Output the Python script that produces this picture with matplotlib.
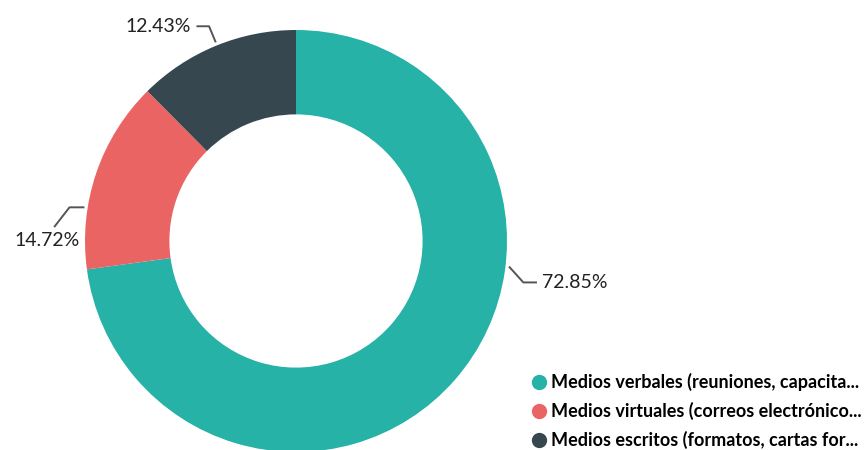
import matplotlib.pyplot as plt
from matplotlib.lines import Line2D
import numpy as np

plt.rcParams["font.family"] = ["Lato", "DejaVu Sans"]

# Data
labels = [
    "Medios verbales (reuniones, capacita...",
    "Medios virtuales (correos electrónico...",
    "Medios escritos (formatos, cartas for...",
]
shares = [72.85, 14.72, 12.43]
colors = ["#26b2a7", "#eb6464", "#37474f"]

# Leader lines: angle where each leaves the ring (deg, CCW from 3 o'clock),
# then the two elbow offsets in axes units and the text side
leaders = [
    (-7, (0.065, -0.072), (0.06, 0.0), "left"),
    (171, (-0.066, 0.0), (-0.07, -0.09), "below"),
    (112, (-0.03, 0.072), (-0.055, 0.0), "right"),
]

fig = plt.figure(figsize=(8.68, 4.5), dpi=100)

# Ring centred at (296, 241) px with an outer radius of 211 px
cx, cy, R = 296, 241, 211
W, H = 868, 450
ax = fig.add_axes([(cx - R) / W, (H - cy - R) / H, 2 * R / W, 2 * R / H])
ax.pie(
    shares,
    colors=colors,
    startangle=90,
    counterclock=False,
    radius=1,
    wedgeprops=dict(width=0.4, edgecolor="none"),
)
ax.set_xlim(-1, 1)
ax.set_ylim(-1, 1)
ax.set_aspect("equal")
ax.axis("off")

# Percentage labels with elbow leader lines
for val, (ang, d1, d2, pos) in zip(shares, leaders):
    a = np.deg2rad(ang)
    x0, y0 = 1.02 * np.cos(a), 1.02 * np.sin(a)
    x1, y1 = x0 + d1[0], y0 + d1[1]
    x2, y2 = x1 + d2[0], y1 + d2[1]
    ax.plot([x0, x1, x2], [y0, y1, y2], color="#555555", lw=1.4, clip_on=False)
    txt = f"{val:.2f}%"
    if pos == "left":
        ax.text(x2 + 0.03, y2, txt, ha="left", va="center",
                fontsize=14, color="#222222", clip_on=False)
    elif pos == "right":
        ax.text(x2 - 0.03, y2, txt, ha="right", va="center",
                fontsize=14, color="#222222", clip_on=False)
    else:
        ax.text(x2 + 0.12, y2 - 0.065, txt, ha="right", va="center",
                fontsize=14, color="#222222", clip_on=False)

# Legend with round markers
handles = [
    Line2D([0], [0], marker="o", linestyle="none", markersize=10,
           markerfacecolor=c, markeredgecolor=c)
    for c in colors
]
fig.legend(
    handles, labels,
    loc="lower left", bbox_to_anchor=(517 / W, -0.034),
    frameon=False, handlelength=0.6, handletextpad=0.4, labelspacing=0.6,
    prop=dict(weight="bold", size=13),
)

fig.savefig("out.png", dpi=100)
